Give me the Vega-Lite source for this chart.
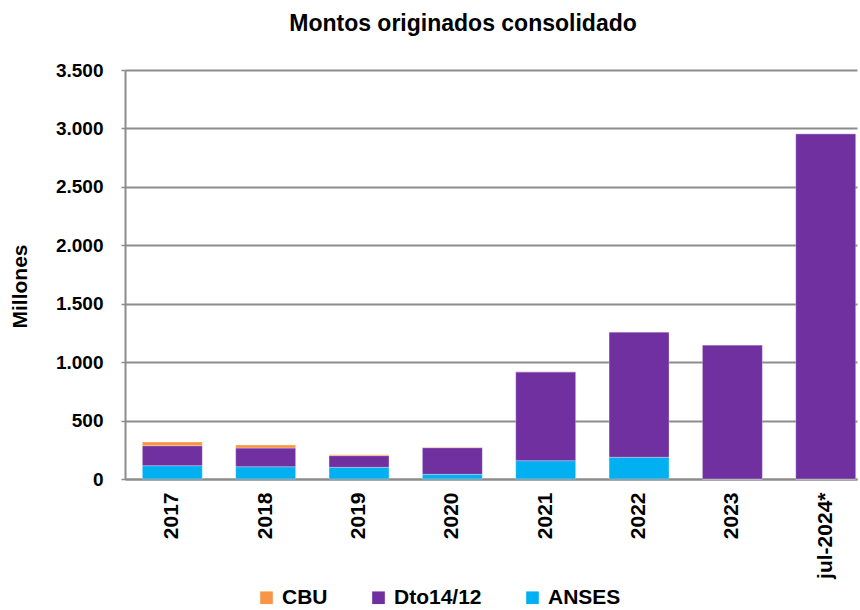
{
  "$schema": "https://vega.github.io/schema/vega-lite/v6.json",
  "width": 732,
  "height": 409,
  "autosize": {"type": "none"},
  "padding": {"left": 125, "top": 70, "right": 3, "bottom": 131},
  "background": "white",
  "title": {
    "text": "Montos originados consolidado",
    "font": "Liberation Sans",
    "fontSize": 23,
    "fontWeight": "bold",
    "color": "#000000",
    "offset": 25,
    "dx": -28
  },
  "data": {
    "values": [
      {"anio": "2017", "serie": "ANSES", "monto": 114},
      {"anio": "2017", "serie": "Dto14/12", "monto": 171},
      {"anio": "2017", "serie": "CBU", "monto": 32},
      {"anio": "2018", "serie": "ANSES", "monto": 105},
      {"anio": "2018", "serie": "Dto14/12", "monto": 160},
      {"anio": "2018", "serie": "CBU", "monto": 26},
      {"anio": "2019", "serie": "ANSES", "monto": 100},
      {"anio": "2019", "serie": "Dto14/12", "monto": 100},
      {"anio": "2019", "serie": "CBU", "monto": 8},
      {"anio": "2020", "serie": "ANSES", "monto": 40},
      {"anio": "2020", "serie": "Dto14/12", "monto": 228},
      {"anio": "2020", "serie": "CBU", "monto": 3},
      {"anio": "2021", "serie": "ANSES", "monto": 157},
      {"anio": "2021", "serie": "Dto14/12", "monto": 760},
      {"anio": "2021", "serie": "CBU", "monto": 0},
      {"anio": "2022", "serie": "ANSES", "monto": 186},
      {"anio": "2022", "serie": "Dto14/12", "monto": 1072},
      {"anio": "2022", "serie": "CBU", "monto": 0},
      {"anio": "2023", "serie": "ANSES", "monto": 0},
      {"anio": "2023", "serie": "Dto14/12", "monto": 1147},
      {"anio": "2023", "serie": "CBU", "monto": 0},
      {"anio": "jul-2024*", "serie": "ANSES", "monto": 0},
      {"anio": "jul-2024*", "serie": "Dto14/12", "monto": 2955},
      {"anio": "jul-2024*", "serie": "CBU", "monto": 0}
    ]
  },
  "transform": [
    {"calculate": "indexof(['ANSES','Dto14/12','CBU'], datum.serie)", "as": "orden"}
  ],
  "mark": {"type": "bar", "stroke": "white", "strokeWidth": 0.5, "strokeOpacity": 0.6},
  "encoding": {
    "x": {
      "field": "anio",
      "type": "nominal",
      "sort": null,
      "scale": {"paddingInner": 0.358, "paddingOuter": 0.1, "align": 0.93},
      "axis": {
        "title": null,
        "labelAngle": -90,
        "labelAlign": "right",
        "labelBaseline": "middle",
        "labelFont": "Liberation Sans",
        "labelFontSize": 21,
        "labelFontWeight": "bold",
        "labelColor": "#000000",
        "labelPadding": 13,
        "ticks": false,
        "domainColor": "#8c8c8c",
        "domainWidth": 2,
        "grid": false
      }
    },
    "y": {
      "field": "monto",
      "type": "quantitative",
      "stack": "zero",
      "scale": {"domain": [0, 3500], "nice": false},
      "axis": {
        "title": "Millones",
        "titleFont": "Liberation Sans",
        "titleFontSize": 21,
        "titleFontWeight": "bold",
        "titleColor": "#000000",
        "titleX": -95,
        "titleY": 216,
        "titleAlign": "center",
        "titleBaseline": "bottom",
        "values": [0, 500, 1000, 1500, 2000, 2500, 3000, 3500],
        "format": ",d",
        "labelExpr": "replace(datum.label, ',', '.')",
        "labelFont": "Liberation Sans",
        "labelFontSize": 19,
        "labelFontWeight": "bold",
        "labelColor": "#000000",
        "labelPadding": 18,
        "tickSize": 4,
        "tickColor": "#8c8c8c",
        "tickWidth": 1.5,
        "domainColor": "#8c8c8c",
        "domainWidth": 2,
        "grid": true,
        "gridColor": "#8c8c8c",
        "gridWidth": 2
      }
    },
    "color": {
      "field": "serie",
      "type": "nominal",
      "scale": {
        "domain": ["CBU", "Dto14/12", "ANSES"],
        "range": ["#F79646", "#7030A0", "#00B0F0"]
      },
      "legend": {
        "title": null,
        "orient": "none",
        "direction": "horizontal",
        "legendX": 131,
        "legendY": 517,
        "symbolType": "square",
        "symbolSize": 160,
        "symbolStrokeWidth": 0,
        "labelFont": "Liberation Sans",
        "labelFontSize": 21,
        "labelFontWeight": "bold",
        "labelColor": "#000000",
        "labelOffset": 5,
        "columnPadding": 40
      }
    },
    "order": {"field": "orden", "type": "quantitative", "sort": "ascending"}
  },
  "config": {"view": {"stroke": null}}
}
